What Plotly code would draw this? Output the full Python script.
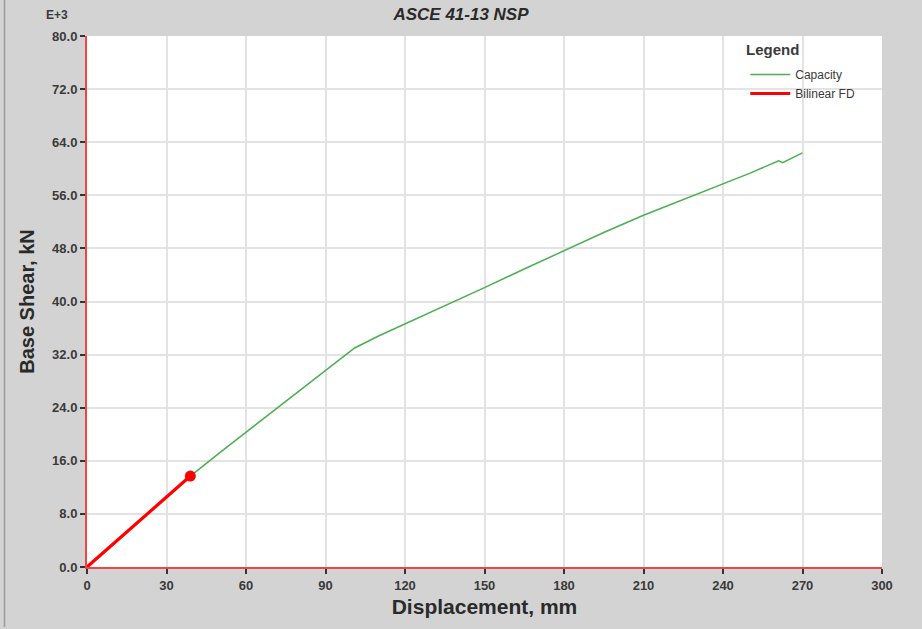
import plotly.graph_objects as go

# Data (base shear in kN x 1e3, displacement in mm)
capacity_disp = [0, 10, 20, 30, 39, 50, 60, 70, 80, 90, 101, 110, 120, 135, 150,
                 165, 180, 195, 210, 225, 240, 250, 261, 262.5, 270]
capacity_shear = [0, 3.5, 7.0, 10.5, 13.7, 17.2, 20.3, 23.5, 26.6, 29.7, 33.0, 34.8,
                  36.6, 39.4, 42.1, 44.9, 47.7, 50.4, 53.0, 55.4, 57.7, 59.3, 61.2,
                  60.9, 62.4]
bilinear_disp = [0, 10, 20, 30, 39]
bilinear_shear = [0, 3.5, 7.0, 10.5, 13.7]
point_disp = [39]
point_shear = [13.7]

x_ticks = [0, 30, 60, 90, 120, 150, 180, 210, 240, 270, 300]
y_ticks = [0, 8, 16, 24, 32, 40, 48, 56, 64, 72, 80]

BG = "#d3d3d3"
TXT = "#3a3a3a"
FONT = "Liberation Sans, Arial, sans-serif"

fig = go.Figure()
fig.add_trace(go.Scatter(x=capacity_disp, y=capacity_shear, mode="lines",
                         name="Capacity", line=dict(color="#4caf50", width=1.5)))
fig.add_trace(go.Scatter(x=bilinear_disp, y=bilinear_shear, mode="lines",
                         name="Bilinear FD", line=dict(color="#ff0000", width=3.2)))
fig.add_trace(go.Scatter(x=point_disp, y=point_shear, mode="markers", showlegend=False,
                         marker=dict(color="#ff0000", size=11)))

fig.update_layout(
    width=922, height=629,
    paper_bgcolor=BG, plot_bgcolor="white",
    margin=dict(l=87, r=40, t=36, b=62),
    font=dict(family=FONT, color=TXT, size=11),
    title=dict(text="<b><i>ASCE 41-13 NSP</i></b>", x=0.5, xanchor="center",
               y=1 - 14 / 629, yanchor="middle",
               font=dict(size=17, color="#2a2a2a", family=FONT)),
    showlegend=True,
    legend=dict(x=0.828, xanchor="left", y=1 - (60 - 36) / 531, yanchor="top",
                bgcolor="rgba(0,0,0,0)", font=dict(size=12, color=TXT),
                itemwidth=40, tracegroupgap=3),
    xaxis=dict(range=[0, 300], tickvals=x_ticks, ticktext=[str(v) for v in x_ticks],
               showgrid=True, gridcolor="#e3e3e3", gridwidth=1.5, zeroline=False,
               showline=True, linecolor="#f04545", linewidth=2,
               ticks="outside", ticklen=5, tickcolor="#333", tickwidth=1.5,
               tickfont=dict(size=13, color=TXT, family=FONT, weight="bold"),
               title=dict(text="<b>Displacement, mm</b>", font=dict(size=21, color="#2a2a2a"),
                          standoff=8)),
    yaxis=dict(range=[0, 80], tickvals=y_ticks, ticktext=[f"{v:.1f}" for v in y_ticks],
               showgrid=True, gridcolor="#e3e3e3", gridwidth=1.5, zeroline=False,
               showline=True, linecolor="#f04545", linewidth=2,
               ticks="outside", ticklen=5, tickcolor="#333", tickwidth=1.5,
               tickfont=dict(size=13, color=TXT, family=FONT, weight="bold"),
               title=dict(text="<b>Base Shear, kN</b>", font=dict(size=20, color="#2a2a2a"),
                          standoff=12)),
)

fig.add_annotation(text="<b>E+3</b>", xref="paper", yref="paper",
                   x=(57 - 87) / 795, y=1 + (36 - 15) / 531, xanchor="center", yanchor="middle",
                   showarrow=False, font=dict(size=12, color=TXT, family=FONT))

# legend heading
fig.add_annotation(text="<b>Legend</b>", xref="paper", yref="paper",
                   x=(744 - 87) / 795, y=1 - (49 - 36) / 531, xanchor="left", yanchor="middle",
                   showarrow=False, font=dict(size=15, color=TXT, family=FONT))

# outer frame line on left edge
fig.add_shape(type="line", xref="paper", yref="paper",
              x0=(4.5 - 87) / 795, x1=(4.5 - 87) / 795,
              y0=-(62 - 2) / 531, y1=1 + 36 / 531,
              line=dict(color="#9a9a9a", width=1.5))

fig.write_html("out.html", config={"displayModeBar": False},
               post_script="document.body.style.margin='0px';")
